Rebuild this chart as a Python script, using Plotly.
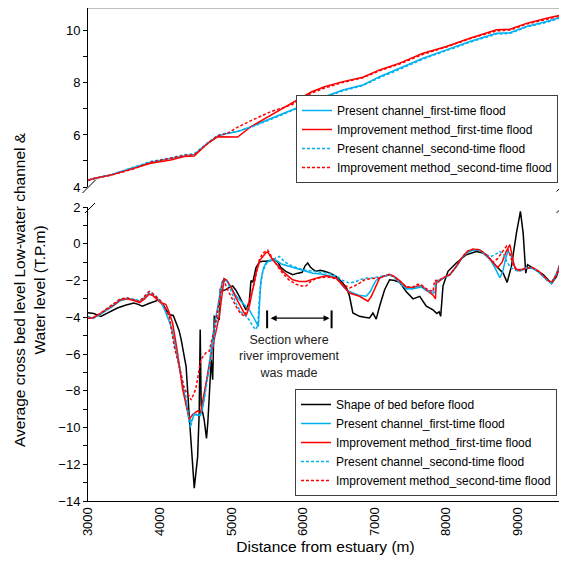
import plotly.graph_objects as go

# ---------------- data ----------------
# Bottom panel: average cross bed level (T.P.m)
bed_x = [3000, 3080, 3180, 3300, 3410, 3520, 3640, 3700, 3760, 3850, 3920, 3990, 4060, 4130, 4190, 4230,
         4270, 4300, 4370, 4410, 4445, 4483, 4530, 4552, 4566, 4580, 4622, 4654, 4673, 4700, 4720, 4740,
         4762, 4800, 4832, 4846, 4880, 4925, 4960, 5018, 5060, 5112, 5160, 5205, 5250, 5275, 5300, 5322,
         5345, 5392, 5438, 5485, 5540, 5601, 5650, 5694, 5760, 5857, 5930, 5990, 6030, 6067, 6100, 6140,
         6183, 6240, 6300, 6380, 6463, 6557, 6620, 6650, 6697, 6750, 6790, 6860, 6930, 6977, 7023, 7070,
         7140, 7210, 7280, 7350, 7440, 7537, 7630, 7722, 7815, 7870, 7900, 7923, 7955, 8025, 8140, 8280,
         8420, 8515, 8600, 8655, 8730, 8795, 8850, 8910, 8980, 9036, 9074, 9110, 9135, 9214, 9290, 9354,
         9420, 9470, 9540, 9620]
bed_y = [-3.75, -3.8, -3.95, -3.7, -3.5, -3.35, -3.22, -3.3, -3.4, -3.25, -3.13, -3.05, -3.4, -3.85, -3.9, -4.3,
         -4.7, -5.2, -6.7, -9.2, -11.0, -13.3, -11.6, -9.2, -4.67, -8.8, -9.6, -10.6, -9.7, -8.1, -6.3, -7.4,
         -3.95, -4.0, -4.13, -2.5, -2.55, -2.5, -2.4, -2.3, -2.5, -2.86, -3.2, -3.6, -3.2, -2.0, -2.1, -1.6,
         -1.3, -1.0, -0.95, -0.95, -0.9, -0.88, -1.0, -1.3, -1.5, -1.68, -1.6, -1.55, -1.2, -1.05, -1.25, -1.4,
         -1.5, -1.45, -1.5, -1.6, -1.78, -2.14, -2.5, -2.86, -3.77, -3.9, -3.95, -4.0, -4.04, -3.77, -4.1, -3.4,
         -2.5, -1.96, -2.0, -2.1, -2.6, -3.0, -2.86, -3.4, -3.6, -3.8, -3.7, -3.95, -2.3, -1.5, -1.05, -0.6,
         -0.42, -0.5, -0.8, -1.05, -1.35, -1.6, -2.1, -1.23, 0.58, 1.76, 0.58, -1.6, -1.14, -1.32, -1.5, -1.68,
         -1.95, -2.17, -1.78, -0.78]

pc1_x = [3000, 3060, 3150, 3250, 3350, 3450, 3550, 3650, 3720, 3780, 3850, 3900, 3960, 4010, 4060, 4110,
         4170, 4230, 4300, 4360, 4410, 4440, 4480, 4530, 4570, 4610, 4660, 4700, 4750, 4800, 4840, 4870,
         4900, 4940, 5000, 5060, 5112, 5180, 5252, 5310, 5345, 5378, 5395, 5415, 5450, 5485, 5540, 5624,
         5700, 5811, 5951, 6050, 6137, 6250, 6417, 6490, 6557, 6620, 6697, 6780, 6883, 6940, 6977, 7020,
         7070, 7140, 7210, 7280, 7350, 7442, 7537, 7600, 7651, 7722, 7815, 7850, 7870, 7900, 7955, 8050,
         8140, 8233, 8300, 8373, 8467, 8560, 8620, 8680, 8748, 8790, 8830, 8864, 8900, 8940, 8980, 9050,
         9120, 9214, 9290, 9354, 9420, 9470, 9540, 9620]
pc1_y = [-3.95, -4.05, -3.9, -3.65, -3.4, -3.1, -3.0, -3.05, -3.15, -2.95, -2.7, -2.8, -2.95, -3.1, -3.5, -4.0,
         -4.6, -5.8, -7.3, -8.6, -9.5, -9.7, -9.3, -9.3, -9.35, -8.7, -7.5, -6.3, -4.8, -3.6, -2.7, -2.1,
         -1.9, -2.0, -2.4, -2.8, -3.04, -3.3, -3.6, -4.0, -4.3, -4.5, -3.2, -1.96, -1.3, -1.05, -0.9, -0.9,
         -1.1, -1.23, -1.41, -1.5, -1.6, -1.65, -1.78, -1.95, -2.3, -2.55, -2.68, -2.8, -2.86, -2.6, -2.3, -2.0,
         -1.87, -1.75, -1.7, -1.8, -2.1, -2.45, -2.45, -2.4, -2.35, -2.55, -2.7, -2.6, -2.0, -2.0, -1.9, -1.7,
         -1.25, -0.7, -0.45, -0.35, -0.35, -0.65, -0.9, -1.3, -1.85, -1.5, -0.8, -0.4, -0.6, -1.1, -1.45, -1.45,
         -1.3, -1.35, -1.55, -1.78, -2.0, -2.15, -1.6, -0.78]

im1_x = [3000, 3060, 3150, 3250, 3350, 3450, 3550, 3650, 3720, 3790, 3850, 3900, 3960, 4010, 4086, 4130,
         4180, 4250, 4320, 4390, 4413, 4460, 4530, 4570, 4622, 4692, 4762, 4832, 4860, 4878, 4900, 4940,
         5000, 5060, 5130, 5205, 5252, 5300, 5345, 5400, 5438, 5480, 5508, 5578, 5650, 5718, 5790, 5857,
         5950, 6043, 6183, 6323, 6463, 6557, 6650, 6790, 6907, 6950, 6977, 7020, 7070, 7140, 7210, 7280,
         7350, 7442, 7537, 7600, 7651, 7722, 7815, 7850, 7860, 7885, 7955, 8050, 8140, 8233, 8300, 8373,
         8467, 8560, 8655, 8720, 8780, 8840, 8888, 8920, 8950, 8980, 9050, 9120, 9214, 9290, 9354, 9420,
         9470, 9540, 9620]
im1_y = [-4.0, -4.05, -3.85, -3.6, -3.35, -3.05, -3.0, -3.1, -3.2, -3.0, -2.75, -2.8, -3.0, -3.2, -3.3, -3.7,
         -4.3, -5.94, -7.9, -9.2, -9.56, -9.3, -9.1, -9.2, -8.1, -6.67, -5.2, -3.95, -3.0, -2.3, -1.9, -2.0,
         -2.4, -2.9, -3.4, -3.95, -3.4, -2.5, -1.6, -0.9, -0.69, -0.5, -0.45, -0.87, -1.2, -1.5, -1.75, -1.96,
         -2.05, -2.05, -1.87, -1.74, -1.87, -2.3, -2.68, -2.86, -3.13, -2.9, -2.68, -2.3, -1.87, -1.75, -1.68, -1.8,
         -2.0, -2.35, -2.4, -2.3, -2.3, -2.5, -2.8, -3.0, -2.0, -2.1, -1.87, -1.68, -1.23, -0.69, -0.4, -0.3,
         -0.33, -0.6, -1.05, -1.3, -1.0, -0.4, -0.05, -0.6, -1.2, -1.4, -1.4, -1.3, -1.32, -1.5, -1.75, -2.0,
         -2.1, -1.7, -0.75]

pc2_x = [3000, 3060, 3150, 3250, 3350, 3450, 3550, 3650, 3720, 3790, 3853, 3900, 3960, 4040, 4133, 4203,
         4273, 4343, 4366, 4413, 4430, 4483, 4552, 4600, 4668, 4738, 4808, 4850, 4878, 4910, 4950, 5000,
         5060, 5130, 5200, 5260, 5300, 5345, 5370, 5400, 5440, 5500, 5600, 5671, 5750, 5857, 5950, 6050,
         6150, 6250, 6350, 6463, 6557, 6650, 6743, 6800, 6883, 6977, 7070, 7140, 7210, 7280, 7350, 7442,
         7537, 7600, 7651, 7722, 7815, 7850, 7885, 7955, 8050, 8140, 8233, 8300, 8373, 8467, 8560, 8620,
         8680, 8748, 8800, 8850, 8900, 8980, 9050, 9120, 9214, 9290, 9354, 9420, 9470, 9540, 9620]
pc2_y = [-4.0, -4.1, -3.9, -3.6, -3.3, -3.0, -2.95, -3.05, -3.1, -2.9, -2.6, -2.7, -2.9, -3.3, -3.95, -5.3,
         -6.67, -7.9, -8.3, -9.75, -10.0, -9.2, -9.4, -9.0, -7.4, -5.58, -3.95, -2.8, -2.2, -1.95, -2.1, -2.6,
         -3.2, -3.7, -3.9, -4.2, -4.5, -4.67, -4.4, -2.5, -1.5, -1.0, -0.8, -0.69, -1.0, -1.23, -1.35, -1.45,
         -1.5, -1.55, -1.6, -1.75, -2.0, -2.14, -2.05, -1.95, -1.87, -1.85, -1.8, -1.75, -1.7, -1.85, -2.15, -2.45,
         -2.45, -2.35, -2.3, -2.55, -2.6, -2.3, -2.0, -1.9, -1.7, -1.25, -0.7, -0.45, -0.35, -0.35, -0.6, -0.7,
         -0.6, -0.42, -0.6, -1.0, -1.3, -1.45, -1.45, -1.3, -1.35, -1.55, -1.8, -2.05, -2.15, -1.65, -0.8]

im2_x = [3000, 3060, 3150, 3250, 3350, 3450, 3550, 3650, 3720, 3790, 3853, 3900, 3960, 4040, 4133, 4203,
         4273, 4343, 4413, 4440, 4505, 4575, 4645, 4692, 4762, 4808, 4850, 4878, 4900, 4925, 5000, 5065,
         5130, 5182, 5228, 5270, 5322, 5360, 5392, 5440, 5485, 5510, 5560, 5640, 5718, 5800, 5900, 5980,
         6043, 6120, 6183, 6323, 6463, 6557, 6650, 6720, 6790, 6860, 6950, 7070, 7140, 7210, 7280, 7350,
         7442, 7537, 7600, 7651, 7722, 7815, 7839, 7885, 7955, 8050, 8140, 8233, 8300, 8373, 8467, 8560,
         8655, 8720, 8790, 8841, 8880, 8940, 8980, 9050, 9120, 9214, 9290, 9354, 9420, 9470, 9540, 9620]
im2_y = [-4.05, -4.05, -3.85, -3.55, -3.3, -3.0, -2.95, -3.05, -3.15, -2.85, -2.6, -2.7, -2.9, -3.2, -3.95, -5.58,
         -6.67, -7.9, -8.3, -8.5, -7.9, -6.3, -5.94, -5.85, -4.67, -3.6, -2.6, -2.1, -1.9, -2.3, -2.9, -3.4,
         -3.8, -3.95, -3.4, -2.8, -2.14, -1.4, -0.87, -0.5, -0.42, -0.35, -0.7, -1.2, -1.6, -1.95, -2.2, -2.3,
         -2.3, -2.0, -1.9, -1.8, -1.9, -2.2, -2.4, -2.3, -2.14, -1.96, -1.9, -1.85, -1.75, -1.65, -1.8, -2.05,
         -2.35, -2.35, -2.2, -2.23, -2.45, -2.6, -2.0, -2.0, -1.87, -1.68, -1.23, -0.69, -0.4, -0.3, -0.33, -0.6,
         -1.0, -0.8, -0.4, -0.14, -0.5, -1.2, -1.45, -1.45, -1.3, -1.32, -1.5, -1.75, -2.0, -2.1, -1.7, -0.75]

# Top panel: water level (T.P.m)
wl_x = [3000, 3084, 3317, 3643, 3876, 4155, 4343, 4483, 4668, 4808, 4948, 5088, 5275, 5555, 5835,
        6115, 6301, 6557, 6837, 7070, 7350, 7676, 8002, 8329, 8702, 8888, 9121, 9400, 9630]
wl_pc1 = [4.27, 4.33, 4.46, 4.75, 4.95, 5.1, 5.2, 5.25, 5.68, 5.95, 6.06, 6.13, 6.32, 6.64, 6.96,
          7.28, 7.47, 7.73, 7.92, 8.24, 8.56, 8.95, 9.27, 9.59, 9.91, 9.93, 10.17, 10.36, 10.55]
wl_im1 = [4.27, 4.33, 4.46, 4.72, 4.91, 5.04, 5.17, 5.19, 5.68, 5.93, 5.93, 5.92, 6.32, 6.77, 7.22,
          7.65, 7.85, 8.05, 8.22, 8.5, 8.76, 9.14, 9.4, 9.72, 10.04, 10.06, 10.29, 10.49, 10.62]
wl_pc2 = [4.25, 4.33, 4.47, 4.77, 4.98, 5.12, 5.24, 5.28, 5.7, 5.98, 6.08, 6.14, 6.3, 6.6, 6.93,
          7.25, 7.43, 7.7, 7.9, 8.2, 8.52, 8.92, 9.24, 9.56, 9.88, 9.9, 10.15, 10.33, 10.53]
wl_im2 = [4.25, 4.33, 4.45, 4.7, 4.95, 5.1, 5.22, 5.24, 5.66, 5.97, 6.06, 6.3, 6.55, 6.9, 7.15,
          7.6, 7.8, 8.02, 8.2, 8.47, 8.73, 9.1, 9.38, 9.7, 10.0, 10.03, 10.26, 10.46, 10.6]

x_ticks = [3000, 4000, 5000, 6000, 7000, 8000, 9000]
x_range = [3000, 9630]
bed_range = [-14, 2]
bed_ticks = [-14, -12, -10, -8, -6, -4, -2, 0, 2]
wl_range = [4, 10.88]
wl_ticks = [4, 6, 8, 10]

section_start, section_end, section_level = 5500, 6400, -4.05
section_label_x, section_label_y = 5811, -6.15

names = ["Shape of bed before flood", "Present channel_first-time flood",
         "Improvement method_first-time flood", "Present channel_second-time flood",
         "Improvement method_second-time flood"]

# ---------------- style ----------------
FONT = "Liberation Sans, Arial, sans-serif"
BLUE = "#00B0F0"
RED = "#FF0000"
DASH = "3px,2px"
GRAY = "#808080"

fig = go.Figure()

bottom = [(bed_x, bed_y, "black", "solid"), (pc1_x, pc1_y, BLUE, "solid"), (im1_x, im1_y, RED, "solid"),
          (pc2_x, pc2_y, BLUE, DASH), (im2_x, im2_y, RED, DASH)]
for (xs, ys, c, d), n in zip(bottom, names):
    fig.add_trace(go.Scatter(x=xs, y=ys, mode="lines", name=n, xaxis="x", yaxis="y",
                             line=dict(color=c, width=1.5, dash=d), legend="legend"))

top = [(wl_pc1, BLUE, "solid"), (wl_im1, RED, "solid"), (wl_pc2, BLUE, DASH), (wl_im2, RED, DASH)]
for (ys, c, d), n in zip(top, names[1:]):
    fig.add_trace(go.Scatter(x=wl_x, y=ys, mode="lines", name=n, xaxis="x2", yaxis="y2",
                             line=dict(color=c, width=1.5, dash=d), legend="legend2"))

# page has an 8px body margin; plot area spans page x 88..563, y 8..501
OFF = 8
FIG_W, FIG_H = 559, 566
ML, MR, MT, MB = 88 - OFF, 4, 0, 73
PW = FIG_W - ML - MR          # 475
PH = FIG_H - MT - MB          # 493
BOT_PX = OFF + FIG_H - MB     # 501


def px2paper(px, py):
    return (px - 88) / PW, (BOT_PX - py) / PH


Y_BOT = [0, px2paper(0, 207)[1]]
Y_TOP = [px2paper(0, 187)[1], 1]

axis_font = dict(family=FONT, size=13, color="black")
legend_style = dict(xanchor="right", yanchor="bottom", bgcolor="white", bordercolor="#404040",
                    borderwidth=1, font=dict(family=FONT, size=12, color="black"), tracegroupgap=0)
fig.update_layout(
    width=FIG_W, height=FIG_H,
    margin=dict(l=ML, r=MR, t=MT, b=MB, autoexpand=False),
    plot_bgcolor="white", paper_bgcolor="white",
    font=dict(family=FONT, size=13, color="black"),
    xaxis=dict(domain=[0, 1], anchor="y", range=x_range, tickvals=x_ticks, tickangle=-90,
               showline=True, linecolor="black", linewidth=1, showgrid=False, zeroline=False,
               ticks="", tickfont=axis_font,
               title=dict(text="Distance from estuary (m)", font=dict(family=FONT, size=15.5), standoff=6)),
    xaxis2=dict(domain=[0, 1], anchor="y2", matches="x", range=x_range, showticklabels=False,
                showline=False, showgrid=False, zeroline=False, ticks=""),
    yaxis=dict(domain=Y_BOT, anchor="x", range=bed_range, tickvals=bed_ticks, showline=True,
               linecolor="black", linewidth=1, showgrid=False, zeroline=False, ticks="outside",
               ticklen=4, tickcolor="black", tickfont=axis_font,
               minor=dict(dtick=1, tick0=0, ticks="outside", ticklen=4, tickcolor="black", showgrid=False)),
    yaxis2=dict(domain=Y_TOP, anchor="x2", range=wl_range, tickvals=wl_ticks, showline=True,
                linecolor="black", linewidth=1, showgrid=False, zeroline=False, ticks="outside",
                ticklen=4, tickcolor="black", tickfont=axis_font,
                minor=dict(dtick=1, tick0=0, ticks="outside", ticklen=4, tickcolor="black", showgrid=False)),
    legend=dict(x=px2paper(557, 0)[0], y=px2paper(0, 496)[1], **legend_style),
    legend2=dict(x=px2paper(558, 0)[0], y=px2paper(0, 183)[1], **legend_style),
    showlegend=True,
)

shapes = [
    dict(type="line", xref="paper", yref="paper", x0=0, x1=1, y0=1, y1=1, line=dict(color=GRAY, width=1)),
    dict(type="line", xref="paper", yref="paper", x0=1, x1=1, y0=px2paper(0, 183)[1], y1=1,
         line=dict(color=GRAY, width=1)),
    dict(type="line", xref="paper", yref="paper", x0=1, x1=1, y0=0, y1=px2paper(0, 211)[1],
         line=dict(color=GRAY, width=1)),
]
for (ax0, ay0, ax1, ay1) in [(82.5, 193, 96, 179.5), (85, 213, 95, 203), (556.5, 191.5, 566.5, 181.5),
                             (556.5, 213, 566.5, 203)]:
    p0 = px2paper(ax0, ay0)
    p1 = px2paper(ax1, ay1)
    shapes.append(dict(type="line", xref="paper", yref="paper", x0=p0[0], y0=p0[1], x1=p1[0], y1=p1[1],
                       line=dict(color="black", width=1)))
for xv in (section_start, section_end):
    shapes.append(dict(type="line", xref="x", yref="y", x0=xv, x1=xv, y0=section_level + 0.42,
                       y1=section_level - 0.55, line=dict(color="black", width=2)))
fig.update_layout(shapes=shapes)

annotations = [
    dict(x=section_end, y=section_level, ax=section_start, ay=section_level, xref="x", yref="y",
         axref="x", ayref="y", text="", showarrow=True, arrowhead=2, startarrowhead=2,
         arrowside="end+start", arrowsize=1, arrowwidth=1.2, arrowcolor="black", standoff=2, startstandoff=2),
    dict(x=section_label_x, y=section_label_y, xref="x", yref="y",
         text="Section where<br>river improvement<br>was made", showarrow=False,
         font=dict(family=FONT, size=12.5, color="#222222"), align="center"),
    dict(x=px2paper(29, 0)[0], y=px2paper(0, 290)[1], xref="paper", yref="paper", textangle=-90,
         text="Average cross bed level Low-water channel &<br>Water level (T.P.m)", showarrow=False,
         font=dict(family=FONT, size=15.5, color="black"), align="center", xanchor="center", yanchor="middle"),
]
fig.update_layout(annotations=annotations)

fig.write_html("out.html")
